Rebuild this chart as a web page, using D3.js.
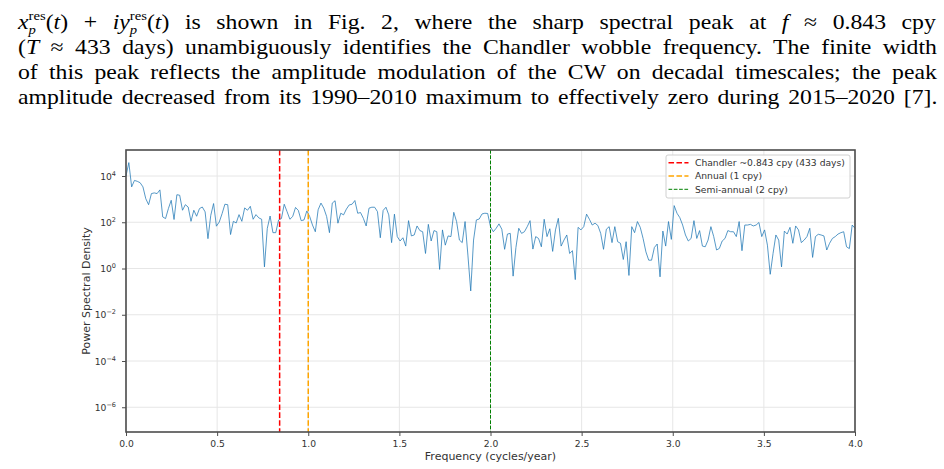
<!DOCTYPE html>
<html>
<head>
<meta charset="utf-8">
<script src="https://cdn.jsdelivr.net/npm/d3@7"></script>
<style>
  body { margin: 0; background: #fff; }
  svg { display: block; }
</style>
</head>
<body>
<svg id="fig" width="944" height="469"></svg>
<script>
// log10 of the power spectral density, evenly spaced from 0 to 4 cpy
const psdLog10 = [
    4.00, 4.58, 3.53, 3.81, 3.77, 3.71, 3.53, 3.02, 2.76, 3.24,
    3.27, 3.24, 3.40, 2.23, 2.16, 2.59, 2.95, 2.12, 3.19, 3.17,
    2.52, 2.76, 2.66, 2.04, 2.52, 2.26, 2.59, 2.66, 2.45, 1.29,
    2.30, 2.81, 1.83, 2.01, 2.37, 2.78, 2.76, 1.47, 2.04, 1.97,
    2.33, 2.04, 2.62, 2.52, 2.69, 2.13, 2.33, 2.19, 2.13, 0.07,
    1.73, 2.27, 1.55,
    1.55, 2.10, 2.16, 2.78, 2.46, 2.13, 2.25, 2.64, 2.51, 2.07,
    2.10, 2.49, 2.25, 1.88, 1.59, 2.54, 2.83, 2.61, 2.25, 1.55,
    2.83, 2.93, 1.96, 2.39, 2.32, 2.57, 2.75, 2.78, 2.94, 2.39,
    2.42, 2.17, 1.84, 2.61, 2.65, 2.65, 2.46, 1.33, 2.51, 2.65,
    2.32, 1.12, 2.35, 1.38, 1.19, 1.33, 0.97, 2.07, 1.41, 1.45,
    1.84, 1.64,
    1.59, 0.65, 1.91, 1.19, 1.64, 1.59, -0.04, 1.67, 1.01,
    1.41, 1.38, 2.43, 2.03, 1.23, 1.12, 2.03, 0.58, -0.97, 1.23,
    2.10, 2.14, 2.36, 2.39, 2.38, 1.81, 1.59, 1.74, 1.93, 1.70,
    0.83, 1.49, 1.52, -0.33, 0.91, 1.74, 1.52, 1.59, 1.81, 2.07,
    0.84, 1.38, 1.30, 0.94, 2.13, 1.38, 1.72, 0.74, 1.67, 2.17,
    0.97, 1.23,
    1.45, 0.65, 0.77, -0.48, 1.78, 1.67, 1.81, 2.35, 2.13, 1.88,
    1.96, 1.86, 1.52, 0.83, 1.70, 1.81, 1.12, 1.81, 1.16, 1.09,
    0.39, 1.16, -0.30, 1.81, 1.55, 2.03, 1.78, 1.30, 0.72, 0.36,
    0.36, 0.91, 1.06, -0.36, 1.62, 0.97, 2.03, 1.26, 2.72, 2.39,
    2.20, 1.88, 1.45, 1.19, 1.30, 2.07, 1.30, 1.64, 0.97, 0.94,
    1.23, 1.81,
    1.38, 0.80, 0.87, 1.19, 1.30, 1.64, 1.59, 1.59, 1.38, 2.03,
    0.77, 1.88, 1.88, 1.91, 1.84, 1.88, 1.99, 1.38, 1.67, 1.01,
    -0.25, 0.65, 1.45, 1.23, 0.07, 1.62, 1.49, 1.78, 1.09, 1.84,
    1.67, 1.12, 1.23, 1.38, 1.74, 0.48, 1.38, 1.48, 1.45, 1.41,
    0.80, 1.09, 1.30, 1.38, 1.49, 1.55, 1.59, 0.94, 0.86, 1.88,
    1.74
];
const freqRange = [0, 4];
const yRangeLog10 = [-7.07, 5.125];

const markerFreqs = [0.843, 1.0, 2.0];
const markerNames = ['Chandler ~0.843 cpy (433 days)', 'Annual (1 cpy)', 'Semi-annual (2 cpy)'];

const xTicks = [0, 0.5, 1, 1.5, 2, 2.5, 3, 3.5, 4];
const yTickExps = [-6, -4, -2, 0, 2, 4];

// styles kept apart from the data
const markerColors = ['#ff0000', '#ffa500', '#008000'];
const markerWidths = [1.5, 1.5, 1];

const svg = d3.select('#fig');
const margin = { left: 126, right: 855, top: 150, bottom: 432 };
const axisFont = '"DejaVu Sans", sans-serif';
const axisColor = '#4d4d4d';
const textColor = '#333';

// ---------- paragraph above the figure ----------
const para = svg.append('g')
    .style('font-family', '"Liberation Serif", "Times New Roman", serif')
    .style('font-size', '21px')
    .attr('fill', '#000');

const paraLeft = 18, paraRight = 938;
const baselines = [29, 54, 79, 104];

const line1 = para.append('text').attr('x', 0).attr('y', baselines[0]);
function mathVar(t, sel) {
    // x_p^res style variable: subscript p with superscript res stacked above it
    sel.append('tspan').style('font-style', 'italic').text(t);
    sel.append('tspan').style('font-style', 'italic').style('font-size', '13px').attr('dy', 5).text('p');
    sel.append('tspan').style('font-size', '13px').attr('dx', -6.5).attr('dy', -14).text('res');
    sel.append('tspan').attr('dy', 9).text('(');
    sel.append('tspan').style('font-style', 'italic').text('t');
    sel.append('tspan').text(')');
}
mathVar('x', line1);
line1.append('tspan').text(' + ');
line1.append('tspan').style('font-style', 'italic').text('i');
mathVar('y', line1);
line1.append('tspan').text(' is shown in Fig. 2, where the sharp spectral peak at ');
line1.append('tspan').style('font-style', 'italic').text('f');
line1.append('tspan').text(' \u2248 0.843 cpy');

const line2 = para.append('text').attr('x', 0).attr('y', baselines[1]);
line2.append('tspan').text('(');
line2.append('tspan').style('font-style', 'italic').text('T');
line2.append('tspan').text(' \u2248 433 days) unambiguously identifies the Chandler wobble frequency. The finite width');

para.append('text').attr('x', 0).attr('y', baselines[2])
    .text('of this peak reflects the amplitude modulation of the CW on decadal timescales; the peak');
para.append('text').attr('x', 0).attr('y', baselines[3])
    .text('amplitude decreased from its 1990\u20132010 maximum to effectively zero during 2015\u20132020 [7].');

// justify: widen the glyphs a little (Computer Modern runs wider), then spread the word gaps
para.selectAll('text').each(function() {
    const target = paraRight - paraLeft;
    const w = this.getBBox().width;
    const s = Math.min(target / w, 1.13);
    const spaces = (this.textContent.match(/ /g) || []).length;
    const extra = target - w * s;
    d3.select(this).attr('transform', `translate(${paraLeft},0) scale(${s},1)`);
    if (spaces > 0 && extra > 0) d3.select(this).attr('word-spacing', extra / (spaces * s));
});

// ---------- chart ----------
const x = d3.scaleLinear().domain(freqRange).range([margin.left, margin.right]);
const y = d3.scaleLog()
    .domain(yRangeLog10.map(e => Math.pow(10, e)))
    .range([margin.bottom, margin.top]);

const df = (freqRange[1] - freqRange[0]) / (psdLog10.length - 1);
const spectrum = psdLog10.map((v, i) => ({ f: freqRange[0] + i * df, p: Math.pow(10, v) }));

// grid
const grid = svg.append('g').attr('stroke', '#e6e6e6').attr('stroke-width', 1);
grid.selectAll('line.v')
    .data(xTicks)
    .enter()
    .append('line')
    .attr('x1', d => x(d)).attr('x2', d => x(d))
    .attr('y1', margin.top).attr('y2', margin.bottom);
grid.selectAll('line.h')
    .data(yTickExps)
    .enter()
    .append('line')
    .attr('x1', margin.left).attr('x2', margin.right)
    .attr('y1', d => y(Math.pow(10, d))).attr('y2', d => y(Math.pow(10, d)));

// spectrum line
const line = d3.line().x(d => x(d.f)).y(d => y(d.p));
svg.append('path')
    .datum(spectrum)
    .attr('d', line)
    .attr('fill', 'none')
    .attr('stroke', '#1f77b4')
    .attr('stroke-opacity', 0.75)
    .attr('stroke-width', 1)
    .attr('stroke-linejoin', 'round');

// marker lines
svg.append('g')
    .selectAll('line')
    .data(markerFreqs)
    .enter()
    .append('line')
    .attr('x1', d => x(d)).attr('x2', d => x(d))
    .attr('y1', margin.top).attr('y2', margin.bottom)
    .attr('stroke', (d, i) => markerColors[i])
    .attr('stroke-width', (d, i) => markerWidths[i])
    .attr('stroke-dasharray', (d, i) => `${3.7 * markerWidths[i]},${1.6 * markerWidths[i]}`);

// spines
svg.append('rect')
    .attr('x', margin.left).attr('y', margin.top)
    .attr('width', margin.right - margin.left)
    .attr('height', margin.bottom - margin.top)
    .attr('fill', 'none')
    .attr('stroke', axisColor)
    .attr('stroke-width', 1.6);

// x axis
const xAxis = svg.append('g')
    .attr('transform', `translate(0,${margin.bottom})`)
    .call(d3.axisBottom(x).tickValues(xTicks).tickFormat(d3.format('.1f')).tickSize(4).tickPadding(4));
xAxis.select('.domain').remove();
xAxis.selectAll('.tick line').attr('stroke', axisColor).attr('stroke-width', 1);
xAxis.selectAll('.tick text')
    .attr('fill', textColor)
    .style('font-family', axisFont)
    .style('font-size', '9.2px');

// y axis with power-of-ten labels
const yAxis = svg.append('g')
    .attr('transform', `translate(${margin.left},0)`)
    .call(d3.axisLeft(y).tickValues(yTickExps.map(e => Math.pow(10, e))).tickFormat('').tickSize(4));
yAxis.select('.domain').remove();
yAxis.selectAll('.tick line').attr('stroke', axisColor).attr('stroke-width', 1);

const yLabels = svg.append('g')
    .style('font-family', axisFont)
    .attr('fill', textColor)
    .selectAll('text')
    .data(yTickExps)
    .enter()
    .append('text')
    .attr('x', margin.left - 10)
    .attr('y', d => y(Math.pow(10, d)) + 3.5)
    .attr('text-anchor', 'end')
    .style('font-size', '9.2px');
yLabels.append('tspan').text('10');
yLabels.append('tspan')
    .attr('dy', -4)
    .style('font-size', '6.5px')
    .text(d => (d < 0 ? '\u2212' + Math.abs(d) : String(d)));

// axis titles
svg.append('text')
    .attr('x', (margin.left + margin.right) / 2)
    .attr('y', 459.5)
    .attr('text-anchor', 'middle')
    .attr('fill', textColor)
    .style('font-family', axisFont)
    .style('font-size', '11px')
    .text('Frequency (cycles/year)');

svg.append('text')
    .attr('transform', `translate(90,${(margin.top + margin.bottom) / 2}) rotate(-90)`)
    .attr('text-anchor', 'middle')
    .attr('fill', textColor)
    .style('font-family', axisFont)
    .style('font-size', '11px')
    .text('Power Spectral Density');

// legend
const legend = svg.append('g').attr('transform', 'translate(666,155)');
legend.append('rect')
    .attr('width', 184).attr('height', 43)
    .attr('rx', 2)
    .attr('fill', '#fff').attr('fill-opacity', 0.85)
    .attr('stroke', '#d0d0d0').attr('stroke-width', 1);
const rows = legend.selectAll('g.row')
    .data(markerNames)
    .enter()
    .append('g')
    .attr('transform', (d, i) => `translate(0,${7.7 + i * 13.3})`);
rows.append('line')
    .attr('x1', 2.5).attr('x2', 22.5)
    .attr('stroke', (d, i) => markerColors[i])
    .attr('stroke-width', (d, i) => markerWidths[i])
    .attr('stroke-dasharray', (d, i) => `${3.7 * markerWidths[i]},${1.6 * markerWidths[i]}`);
rows.append('text')
    .attr('x', 29)
    .attr('y', 3.3)
    .attr('fill', textColor)
    .style('font-family', axisFont)
    .style('font-size', '9.2px')
    .text(d => d);
</script>
</body>
</html>
